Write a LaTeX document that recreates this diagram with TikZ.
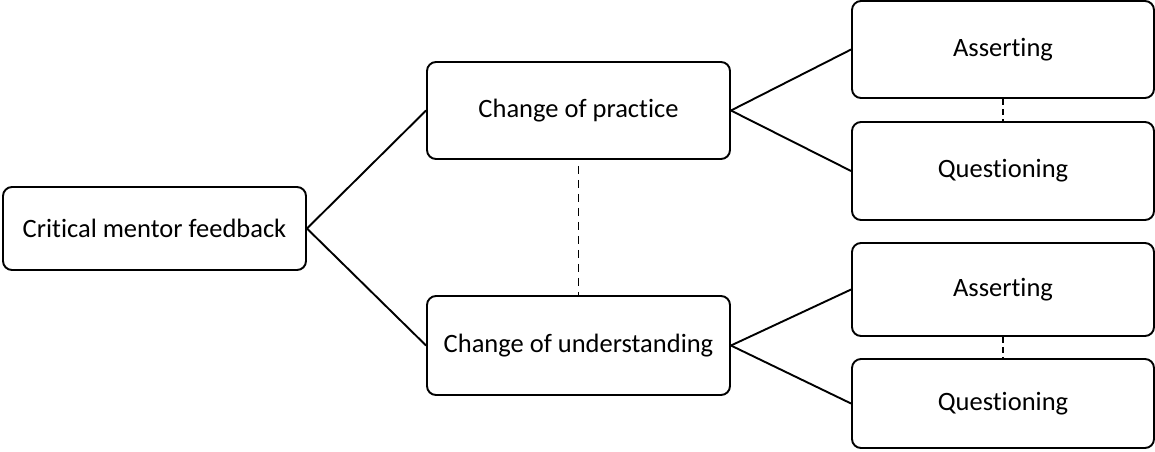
\documentclass[tikz,border=0pt]{standalone}
\usepackage{fontspec}
\setmainfont{Carlito}[RawFeature={-liga;-clig;-dlig;-calt}]
\begin{document}
\begin{tikzpicture}[x=1pt,y=-1pt,
  box/.style={draw=black, line width=1.9pt, rounded corners=9pt, inner sep=0pt,
    font=\fontsize{26.5}{30}\selectfont, text=black},
  conn/.style={draw=black, line width=1.9pt},
  dconn/.style={draw=black, line width=1.9pt, dash pattern=on 8pt off 6pt, dash phase=8pt}]
\useasboundingbox (0,0) rectangle (1155,451);
\node[box, minimum width=303pt, minimum height=83pt] (cmf) at (154.5,228.5) {Critical mentor feedback};
\node[box, minimum width=303pt, minimum height=97pt] (cop) at (578.5,110.5) {Change of practice};
\node[box, minimum width=303pt, minimum height=99pt] (cou) at (578.5,345.5) {Change of understanding};
\node[box, minimum width=302pt, minimum height=97pt] (a1) at (1003,49.5) {Asserting};
\node[box, minimum width=302pt, minimum height=98pt] (q1) at (1003,171) {Questioning};
\node[box, minimum width=302pt, minimum height=93pt] (a2) at (1003,289.5) {Asserting};
\node[box, minimum width=302pt, minimum height=89pt] (q2) at (1003,403.5) {Questioning};
\draw[conn] (cmf.east) -- (cop.west);
\draw[conn] (cmf.east) -- (cou.west);
\draw[conn] (cop.east) -- (a1.west);
\draw[conn] (cop.east) -- (q1.west);
\draw[conn] (cou.east) -- (a2.west);
\draw[conn] (cou.east) -- (q2.west);
\draw[dconn] (cop.south) -- (cou.north);
\draw[dconn, dash phase=0pt, dash pattern=on 6pt off 4pt] (a1.south) -- (q1.north);
\draw[dconn, dash phase=0pt, dash pattern=on 6pt off 4pt] (a2.south) -- (q2.north);
\end{tikzpicture}
\end{document}
